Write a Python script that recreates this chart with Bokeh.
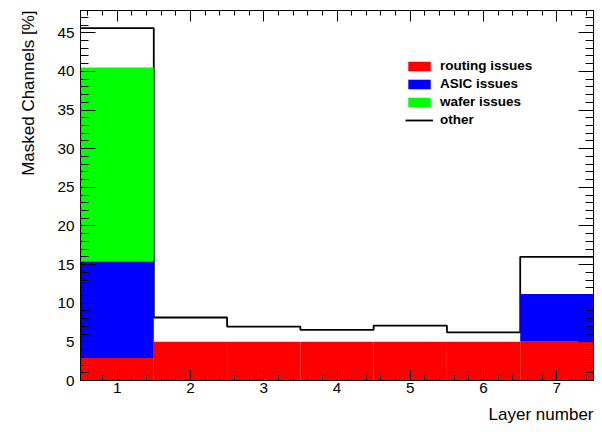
import numpy as np
from bokeh.plotting import figure
from bokeh.models import (Range1d, LinearAxis, FixedTicker, Title, Legend,
                          LegendItem, ColumnDataSource)
from bokeh.embed import file_html
from bokeh.resources import INLINE

# ---- data -------------------------------------------------------------
layers = [1, 2, 3, 4, 5, 6, 7]
routing = [2.9, 5.0, 5.0, 5.0, 5.0, 5.0, 5.0]
asic = [12.5, 0.0, 0.0, 0.0, 0.0, 0.0, 6.2]
wafer = [25.1, 0.0, 0.0, 0.0, 0.0, 0.0, 0.0]
other = [5.1, 3.15, 1.98, 1.54, 2.11, 1.24, 4.8]

x_ticks = [1, 2, 3, 4, 5, 6, 7]
y_ticks = [0, 5, 10, 15, 20, 25, 30, 35, 40, 45]

x_title = "Layer number"
y_title = "Masked Channels [%]"
labels = ["routing issues", "ASIC issues", "wafer issues", "other"]
colors = ["#ff0000", "#0000ff", "#00ff00", "black"]

FONT = "Liberation Sans"

# ---- derived stacking -------------------------------------------------
lay = np.array(layers, dtype=float)
r = np.array(routing)
a = np.array(asic)
w = np.array(wafer)
o = np.array(other)
c1 = r
c2 = r + a
c3 = r + a + w
tot = c3 + o
ymax = 1.05 * tot.max()

left = lay - 0.5
right = lay + 0.5

p = figure(width=602, height=432, output_backend="svg", toolbar_location=None,
           x_range=Range1d(0.5, 7.5), y_range=Range1d(0, ymax),
           x_axis_location=None, y_axis_location=None,
           min_border_left=80, min_border_right=9, min_border_top=10,
           min_border_bottom=52)
p.xgrid.visible = False
p.ygrid.visible = False
p.outline_line_color = "black"
p.outline_line_width = 1
p.background_fill_color = "white"
p.border_fill_color = "white"

# total outline ("other") drawn first, stacked fills on top
edges = np.append(left, right[-1])
step_y = np.append(tot, tot[-1])
r_other = p.step(x=edges, y=step_y, mode="after", line_color="black", line_width=1.8)

src = ColumnDataSource(dict(left=left, right=right, zero=np.zeros_like(lay),
                            c1=c1, c2=c2, c3=c3))
r_wafer = p.quad(left="left", right="right", bottom="c2", top="c3", source=src,
                 fill_color=colors[2], line_color=None)
r_asic = p.quad(left="left", right="right", bottom="c1", top="c2", source=src,
                fill_color=colors[1], line_color=None)
r_rout = p.quad(left="left", right="right", bottom="zero", top="c1", source=src,
                fill_color=colors[0], line_color=None)

# ---- axes (ROOT style: inward ticks on all sides) ---------------------
x_minor = list(np.round(np.arange(0.6, 7.5, 0.2), 3))
y_minor = list(range(0, 48))


def style(ax, maj, mnr, show_labels):
    ax.major_tick_in = maj
    ax.major_tick_out = 0
    ax.minor_tick_in = mnr
    ax.minor_tick_out = 0
    ax.axis_line_color = "black"
    ax.major_tick_line_color = "black"
    ax.minor_tick_line_color = "black"
    ax.major_label_text_font = FONT
    if show_labels:
        ax.major_label_text_color = "black"
        ax.major_label_text_font_size = "15.3px"
    else:
        ax.major_label_text_color = None
        ax.major_label_text_font_size = "1px"
        ax.major_label_standoff = 0


xb = LinearAxis(ticker=FixedTicker(ticks=x_ticks, minor_ticks=x_minor))
style(xb, 11, 5, True)
xb.major_label_standoff = 2
p.add_layout(xb, "below")

yl = LinearAxis(ticker=FixedTicker(ticks=y_ticks, minor_ticks=y_minor))
style(yl, 15, 8, True)
yl.major_label_standoff = 6
p.add_layout(yl, "left")

xt = LinearAxis(ticker=FixedTicker(ticks=x_ticks, minor_ticks=x_minor))
style(xt, 11, 5, False)
p.add_layout(xt, "above")

yr = LinearAxis(ticker=FixedTicker(ticks=y_ticks, minor_ticks=y_minor))
style(yr, 15, 8, False)
p.add_layout(yr, "right")

# ---- axis titles (ROOT style: right-aligned at the axis end) ----------
tx = Title(text=x_title, align="right", text_font=FONT, text_font_size="17px",
           text_font_style="normal", text_color="black", standoff=15)
p.add_layout(tx, "below")
ty = Title(text=y_title, align="right", text_font=FONT, text_font_size="17px",
           text_font_style="normal", text_color="black", standoff=33)
p.add_layout(ty, "left")

# ---- legend ----------------------------------------------------------
leg = Legend(items=[LegendItem(label=labels[0], renderers=[r_rout]),
                    LegendItem(label=labels[1], renderers=[r_asic]),
                    LegendItem(label=labels[2], renderers=[r_wafer]),
                    LegendItem(label=labels[3], renderers=[r_other])],
             location=(325, 253), orientation="vertical",
             glyph_width=28, glyph_height=12, label_height=12,
             label_standoff=7, spacing=3, padding=0, margin=0,
             label_text_font=FONT, label_text_font_size="13.5px",
             label_text_font_style="bold", label_text_color="black",
             border_line_color=None, background_fill_alpha=0)
p.add_layout(leg, "center")

open("out.html", "w").write(file_html(p, INLINE))
